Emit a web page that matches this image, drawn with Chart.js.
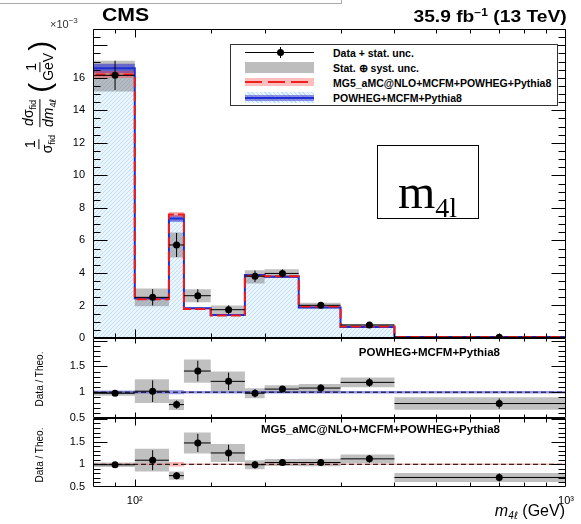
<!DOCTYPE html>
<html>
<head>
<meta charset="utf-8">
<script src="https://cdn.jsdelivr.net/npm/chart.js@4.4.1/dist/chart.umd.min.js"></script>
<style>
  body { margin: 0; background: #fff; }
  #wrap { position: relative; width: 581px; height: 524px; overflow: hidden; font-family: "Liberation Sans", Arial, sans-serif; color: #000; }
  #wrap canvas { position: absolute; left: 0; top: 0; }
  .abs { position: absolute; white-space: nowrap; line-height: 1; }
  .frac { display: inline-flex; flex-direction: column; align-items: center; vertical-align: middle; margin: 0 2px; }
  .frac > span:first-child { border-bottom: 1px solid #000; padding: 0 1px 1px; }
  .frac > span:last-child { padding-top: 1px; }
  sub { font-size: 65%; vertical-align: -3px; }
  .ell { font-family: "DejaVu Sans", sans-serif; font-style: italic; }
  .leg { position: absolute; left: 333px; font-size: 10.5px; font-weight: bold; }
</style>
</head>
<body>
<div id="wrap">
  <canvas id="c" width="581" height="524"></canvas>

  <div class="abs" style="left:-4px; top:-10px; width:344px; height:12px; border:1px solid #aaa;"></div>

  <div class="abs" style="left:102px; top:6px; font-size:18px; font-weight:bold; transform:scaleX(1.18); transform-origin:left;">CMS</div>
  <div class="abs" style="right:14px; top:8px; font-size:16px; font-weight:bold; transform:scaleX(1.2); transform-origin:right;">35.9 fb<sup style="font-size:10px;">&minus;1</sup> (13 TeV)</div>
  <div class="abs" style="left:50px; top:17px; font-size:11px; color:#333;">&times;10<sup style="font-size:8px;">&minus;3</sup></div>

  <div class="abs" style="left:40px; top:98px; font-size:14px; transform:translate(-50%,-50%) rotate(-90deg);">
    <span class="frac"><span>1</span><span>&sigma;<sub>fid</sub></span></span>
    <span class="frac"><span><i>d</i>&sigma;<sub>fid</sub></span><span><i>dm</i><sub>4<span class="ell">&#8467;</span></sub></span></span>
    <span style="font-size:30px; vertical-align:middle; font-weight:100;">(</span><span class="frac"><span>1</span><span>GeV</span></span><span style="font-size:30px; vertical-align:middle; font-weight:100;">)</span>
  </div>

  <div class="abs" style="left:40px; top:379px; font-size:10px; transform:translate(-50%,-50%) rotate(-90deg);">Data / Theo.</div>
  <div class="abs" style="left:40px; top:455px; font-size:10px; transform:translate(-50%,-50%) rotate(-90deg);">Data / Theo.</div>

  <div class="abs" style="right:81px; top:347px; font-size:11.5px; font-weight:bold;">POWHEG+MCFM+Pythia8</div>
  <div class="abs" style="right:81px; top:424px; font-size:11.5px; font-weight:bold;">MG5_aMC@NLO+MCFM+POWHEG+Pythia8</div>

  <div class="abs" style="right:16px; top:503px; font-size:16px;"><i>m</i><sub style="font-size:10px;"><i>4</i><span class="ell">&#8467;</span></sub>&nbsp;(GeV)</div>

  <!-- legend -->
  <div class="abs" style="left:230px; top:44px; width:326px; height:60px; border:1px solid #333; background:#fff;"></div>
  <div class="abs" style="left:245px; top:52px; width:69px; height:1px; background:#000;"></div>
  <div class="abs" style="left:280px; top:47px; width:1px; height:11px; background:#000;"></div>
  <div class="abs" style="left:277px; top:49px; width:7px; height:7px; border-radius:50%; background:#000;"></div>
  <div class="abs" style="left:245px; top:62px; width:69px; height:11px; background:#bdbdbd;"></div>
  <div class="abs" style="left:245px; top:78px; width:69px; height:8px; background:rgba(255,110,110,0.45);"></div>
  <div class="abs" style="left:245px; top:81px; width:69px; height:2px; background:repeating-linear-gradient(90deg,#f02020 0 17px,transparent 17px 23px);"></div>
  <div class="abs" style="left:245px; top:92px; width:69px; height:11px; background:repeating-linear-gradient(45deg,#bfdff5 0 1px,#eaf5fd 1px 3px);"></div>
  <div class="abs" style="left:245px; top:95px; width:69px; height:6px; background:rgba(60,60,210,0.55);"></div>
  <div class="abs" style="left:245px; top:97px; width:69px; height:2px; background:#1f2fd0;"></div>
  <div class="leg" style="top:47px;">Data + stat. unc.</div>
  <div class="leg" style="top:62px;">Stat. &#8853; syst. unc.</div>
  <div class="leg" style="top:77px;">MG5_aMC@NLO+MCFM+POWHEG+Pythia8</div>
  <div class="leg" style="top:92px;">POWHEG+MCFM+Pythia8</div>

  <div class="abs" style="left:377px; top:145px; width:100px; height:72px; border:1.5px solid #000; background:#fff;"></div>
  <div class="abs" style="left:398px; top:168px; font-family:'Liberation Serif','DejaVu Serif',serif; font-size:48px;">m<span style="font-size:28px; vertical-align:-9px;">4l</span></div>
</div>

<script>
// m4l bins (GeV) and bin centres used for the data markers
const binEdges = [80, 100, 120, 130, 150, 180, 200, 240, 300, 400, 1000];
const binCenters = [90, 110, 125, 140, 165, 190, 220, 270, 350, 700];

// normalised differential cross section, units of 1e-3 / GeV
const dataVals = [16.15, 2.50, 5.72, 2.60, 1.74, 3.80, 3.97, 2.01, 0.80, 0.045];
const dataStat = [0.90, 0.50, 0.74, 0.40, 0.27, 0.35, 0.25, 0.12, 0.065, 0.007];
const dataTotLo = [15.15, 1.95, 4.95, 2.20, 1.45, 3.35, 3.72, 1.82, 0.66, 0.035];
const dataTotHi = [17.05, 3.05, 6.48, 3.00, 2.00, 4.17, 4.23, 2.17, 0.86, 0.055];

const powheg = [16.58, 2.45, 7.35, 1.83, 1.42, 3.87, 3.76, 1.87, 0.67, 0.058];
const powhegUnc = [0.28, 0.05, 0.20, 0.04, 0.03, 0.06, 0.06, 0.03, 0.015, 0.002];
const mg5 = [16.20, 2.38, 7.60, 1.78, 1.39, 3.82, 3.80, 1.93, 0.71, 0.063];
const mg5Unc = [0.22, 0.05, 0.15, 0.04, 0.03, 0.06, 0.06, 0.03, 0.015, 0.002];

// data / theory
const ratioPow = [0.98, 1.02, 0.76, 1.41, 1.21, 0.98, 1.06, 1.08, 1.19, 0.78];
const ratioPowStat = [0.05, 0.21, 0.08, 0.20, 0.17, 0.08, 0.06, 0.07, 0.085, 0.10];
const ratioPowTot = [0.05, 0.23, 0.105, 0.225, 0.19, 0.095, 0.075, 0.08, 0.095, 0.12];
const powBandRel = [0.03, 0.025, 0.04, 0.025, 0.025, 0.025, 0.025, 0.025, 0.025, 0.025];

const ratioMg = [0.99, 1.09, 0.75, 1.47, 1.25, 0.99, 1.04, 1.04, 1.12, 0.71];
const ratioMgStat = [0.045, 0.22, 0.08, 0.20, 0.18, 0.085, 0.065, 0.07, 0.085, 0.09];
const ratioMgTot = [0.05, 0.25, 0.09, 0.23, 0.20, 0.10, 0.075, 0.085, 0.095, 0.10];
const mgBandRel = [0.015, 0.015, 0.05, 0.015, 0.015, 0.015, 0.015, 0.015, 0.015, 0.015];

const xTickLabels = { 100: '10\u00b2', 1000: '10\u00b3' };
const ratioTicks = [0.5, 1, 1.5];

// ---- helpers turning bin contents into line points ----
const last = binEdges.length - 1;
function steps(vals) {
  return vals.map((v, i) => ({ x: binEdges[i], y: v })).concat([{ x: binEdges[last], y: vals[vals.length - 1] }]);
}
function outline(vals) {
  return [{ x: binEdges[0], y: 0 }].concat(steps(vals));
}
function vBars(vals, err) {
  const out = [];
  vals.forEach((v, i) => out.push({ x: binCenters[i], y: v - err[i] }, { x: binCenters[i], y: v + err[i] }, { x: binCenters[i], y: null }));
  return out;
}
function hBars(vals) {
  const out = [];
  vals.forEach((v, i) => out.push({ x: binEdges[i], y: v }, { x: binEdges[i + 1], y: v }, { x: binEdges[i + 1], y: null }));
  return out;
}
const markers = vals => vals.map((v, i) => ({ x: binCenters[i], y: v }));
const minus = (a, b) => a.map((v, i) => v - b[i]);
const plus = (a, b) => a.map((v, i) => v + b[i]);
const ones = binCenters.map(() => 1);

// light blue hatch for the POWHEG histogram
const hatch = (() => {
  const c = document.createElement('canvas');
  c.width = 4; c.height = 4;
  const g = c.getContext('2d');
  g.fillStyle = '#eaf5fd'; g.fillRect(0, 0, 4, 4);
  g.fillStyle = '#bfdff5';
  for (let i = 0; i < 4; i++) g.fillRect(i, 3 - i, 1, 1);
  return g.createPattern(c, 'repeat');
})();

const base = { type: 'line', pointRadius: 0, borderWidth: 0, stepped: true, fill: false, spanGaps: false };
const GREY = 'rgba(115,115,115,0.45)';

function band(lo, hi, color, axis, order) {
  return [
    Object.assign({}, base, { data: steps(lo), yAxisID: axis, order }),
    Object.assign({}, base, { data: steps(hi), yAxisID: axis, order, fill: '-1', backgroundColor: color })
  ];
}
function errorBars(vals, err, axis) {
  return [
    Object.assign({}, base, { stepped: false, data: vBars(vals, err), yAxisID: axis, borderColor: '#000', borderWidth: 1, order: 2 }),
    Object.assign({}, base, { stepped: false, data: hBars(vals), yAxisID: axis, borderColor: '#000', borderWidth: 1, order: 2 }),
    Object.assign({}, base, { stepped: false, showLine: false, data: markers(vals), yAxisID: axis, pointRadius: 3.5, pointBackgroundColor: '#000', pointBorderWidth: 0, order: 1 })
  ];
}
function unityLine(axis) {
  return Object.assign({}, base, { stepped: false, data: [{ x: binEdges[0], y: 1 }, { x: binEdges[last], y: 1 }], yAxisID: axis, borderColor: '#000', borderWidth: 1, borderDash: [5, 3], order: 3 });
}

const datasets = [
  // main panel
  Object.assign({}, base, { data: outline(powheg), yAxisID: 'y', fill: 'origin', backgroundColor: hatch, order: 20 }),
  ...band(dataTotLo, dataTotHi, GREY, 'y', 15),
  ...band(minus(powheg, powhegUnc), plus(powheg, powhegUnc), 'rgba(45,45,205,0.6)', 'y', 12),
  ...band(minus(mg5, mg5Unc), plus(mg5, mg5Unc), 'rgba(255,60,60,0.4)', 'y', 11),
  Object.assign({}, base, { data: outline(powheg), yAxisID: 'y', borderColor: '#1f30d2', borderWidth: 2, order: 6 }),
  Object.assign({}, base, { data: outline(mg5), yAxisID: 'y', borderColor: '#f21a1a', borderWidth: 2, borderDash: [10, 4], order: 5 }),
  ...errorBars(dataVals, dataStat, 'y'),
  // POWHEG ratio
  ...band(minus(ones, powBandRel), plus(ones, powBandRel), 'rgba(60,60,230,0.55)', 'r1', 12),
  ...band(minus(ratioPow, ratioPowTot), plus(ratioPow, ratioPowTot), GREY, 'r1', 15),
  unityLine('r1'),
  ...errorBars(ratioPow, ratioPowStat, 'r1'),
  // MG5 ratio
  ...band(minus(ones, mgBandRel), plus(ones, mgBandRel), 'rgba(255,90,90,0.45)', 'r2', 12),
  ...band(minus(ratioMg, ratioMgTot), plus(ratioMg, ratioMgTot), GREY, 'r2', 15),
  unityLine('r2'),
  ...errorBars(ratioMg, ratioMgStat, 'r2')
];

// frames and inward ticks on every pad, ROOT style
const padTicks = {
  id: 'padTicks',
  afterDatasetsDraw(chart) {
    const ctx = chart.ctx, xs = chart.scales.x;
    const pads = [
      { s: chart.scales.y, minor: 0.5, major: 2, xMaj: 8, xMin: 4 },
      { s: chart.scales.r1, minor: 0.1, major: 0.5, xMaj: 5, xMin: 3 },
      { s: chart.scales.r2, minor: 0.1, major: 0.5, xMaj: 7, xMin: 4 }
    ];
    ctx.save();
    ctx.strokeStyle = '#000';
    ctx.lineWidth = 1;
    const L = Math.round(xs.left) + 0.5, R = Math.round(xs.right) - 0.5;
    ctx.beginPath();
    pads.forEach(p => {
      const s = p.s;
      const T = Math.round(s.top) + 0.5, B = Math.round(s.bottom) - 0.5;
      ctx.rect(L, T, R - L, B - T);
      xs.ticks.forEach(t => {
        const px = Math.round(xs.getPixelForValue(t.value)) + 0.5;
        if (px <= L + 1 || px >= R - 1) return;
        const len = (t.value === 100 || t.value === 1000) ? p.xMaj : p.xMin;
        ctx.moveTo(px, T); ctx.lineTo(px, T + len);
        ctx.moveTo(px, B); ctx.lineTo(px, B - len);
      });
      const n = Math.round((s.max - s.min) / p.minor);
      for (let k = 0; k <= n; k++) {
        const v = s.min + k * p.minor;
        const q = v / p.major;
        const len = Math.abs(q - Math.round(q)) < 1e-6 ? 14 : 7;
        const py = Math.round(s.getPixelForValue(v)) + 0.5;
        if (py < T || py > B) continue;
        ctx.moveTo(L, py); ctx.lineTo(L + len, py);
        ctx.moveTo(R, py); ctx.lineTo(R - len, py);
      }
    });
    ctx.stroke();
    ctx.restore();
  }
};

const FONT = { family: '"Liberation Sans", Arial, sans-serif', size: 11 };
const ratioAxis = (weight, max) => ({
  type: 'linear', position: 'left', stack: 'pads', stackWeight: weight, min: 0.5, max,
  grid: { display: false, drawTicks: false }, border: { display: false },
  ticks: { color: '#000', font: FONT, padding: 8, callback: v => String(v) },
  afterBuildTicks: s => { s.ticks = ratioTicks.map(v => ({ value: v })); },
  afterFit: s => { s.width = 93; }
});

// stacked pads are laid out bottom-up in the order they are declared
new Chart(document.getElementById('c'), {
  type: 'line',
  data: { datasets },
  options: {
    responsive: false,
    animation: false,
    devicePixelRatio: 1,
    layout: { padding: { top: 29, right: 8, left: 0, bottom: 0 } },
    plugins: { legend: { display: false }, tooltip: { enabled: false } },
    scales: {
      x: {
        type: 'logarithmic', min: 80, max: 1000,
        grid: { display: false, drawTicks: false }, border: { display: false },
        ticks: { color: '#000', font: FONT, padding: 7, autoSkip: false, maxRotation: 0,
          callback: v => xTickLabels[v] || '' },
        afterFit: s => { s.height = 37; }
      },
      r2: ratioAxis(69, 2.02),
      r1: ratioAxis(80, 2.05),
      y: {
        type: 'linear', position: 'left', stack: 'pads', stackWeight: 309, min: 0, max: 19,
        grid: { display: false, drawTicks: false }, border: { display: false },
        ticks: { color: '#000', font: FONT, padding: 8, stepSize: 2 },
        afterBuildTicks: s => { s.ticks = s.ticks.filter(t => t.value % 2 === 0); },
        afterFit: s => { s.width = 93; }
      }
    }
  },
  plugins: [padTicks]
});
</script>
</body>
</html>
